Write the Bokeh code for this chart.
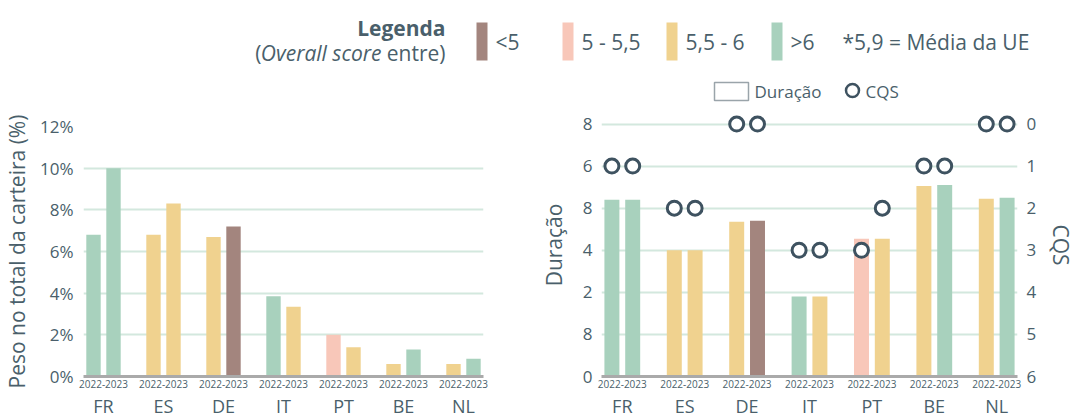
from bokeh.plotting import figure
from bokeh.models import (ColumnDataSource, FactorRange, Range1d, LinearAxis,
                          FixedTicker, PrintfTickFormatter)
from bokeh.transform import dodge
from bokeh.layouts import column, row
from bokeh.core.properties import value
from bokeh.embed import file_html
from bokeh.resources import INLINE

# ---------------- data ----------------
countries = ["FR", "ES", "DE", "IT", "PT", "BE", "NL"]
period = "2022-2023"

weight_2022 = [6.8, 6.8, 6.7, 3.85, 2.0, 0.6, 0.6]
weight_2023 = [10.0, 8.3, 7.2, 3.35, 1.4, 1.3, 0.85]

duration_2022 = [8.4, 6.0, 7.35, 3.8, 6.55, 9.05, 8.45]
duration_2023 = [8.4, 6.0, 7.4, 3.8, 6.55, 9.1, 8.5]

cqs_2022 = [1, 2, 0, 3, 3, 1, 0]
cqs_2023 = [1, 2, 0, 3, 2, 1, 0]

class_2022 = [">6", "5,5 - 6", "5,5 - 6", ">6", "5 - 5,5", "5,5 - 6", "5,5 - 6"]
class_2023 = [">6", "5,5 - 6", "<5", "5,5 - 6", "5,5 - 6", ">6", ">6"]

legend_labels = ["<5", "5 - 5,5", "5,5 - 6", ">6"]
legend_colors = ["#a3857e", "#f8c7b9", "#f0d28f", "#a8d1bd"]
legend_note = "*5,9 = Média da UE"

weight_ticks = [0, 2, 4, 6, 8, 10, 12]
duration_ticks = [0, 2, 4, 6, 8, 10, 12]
duration_tick_labels = ["0", "8", "2", "4", "8", "6", "8"]
cqs_ticks = [0, 1, 2, 3, 4, 5, 6]

# ---------------- style ----------------
FONT = "Open Sans"
TEXT = "#4a5f6b"
GRID = "#d3e8de"
AXIS = "#aaaaaa"
MARK = "#3e5260"
color_map = dict(zip(legend_labels, legend_colors))

factors = [(c, period) for c in countries]
src = ColumnDataSource(dict(
    x=factors,
    w22=weight_2022, w23=weight_2023,
    d22=duration_2022, d23=duration_2023,
    q22=cqs_2022, q23=cqs_2023,
    c22=[color_map[k] for k in class_2022],
    c23=[color_map[k] for k in class_2023],
))


def style(p):
    p.outline_line_color = None
    p.xgrid.grid_line_color = None
    p.ygrid.grid_line_color = GRID
    p.ygrid.grid_line_width = 2
    p.background_fill_color = "white"
    p.border_fill_color = "white"
    try:
        p.frame_align = False
    except Exception:
        pass
    for ax in p.xaxis:
        ax.axis_line_color = AXIS
        ax.axis_line_width = 3
        ax.major_tick_line_color = None
        ax.minor_tick_line_color = None
        ax.major_tick_out = 0
        ax.major_tick_in = 0
        ax.major_label_text_font = FONT
        ax.major_label_text_font_size = "10px"
        ax.major_label_text_color = TEXT
        ax.major_label_standoff = 3
        ax.group_text_font = FONT
        ax.group_text_font_size = "18px"
        ax.group_text_color = TEXT
        ax.group_text_font_style = "normal"
        ax.separator_line_color = None
    for ax in p.yaxis:
        ax.axis_line_color = None
        ax.major_tick_line_color = None
        ax.minor_tick_line_color = None
        ax.major_tick_out = 0
        ax.major_tick_in = 0
        ax.major_label_text_font = FONT
        ax.major_label_text_font_size = "17px"
        ax.major_label_text_color = TEXT
        ax.axis_label_text_font = FONT
        ax.axis_label_text_font_style = "normal"
        ax.axis_label_text_color = TEXT


# ---------------- legend strip ----------------
leg = figure(width=1084, height=105, x_range=Range1d(0, 1084), y_range=Range1d(105, 0),
             output_backend="svg", toolbar_location=None,
             min_border_left=0, min_border_right=0, min_border_top=0, min_border_bottom=0)
leg.axis.visible = False
leg.grid.visible = False
leg.outline_line_color = None

leg.text(x=[445], y=[27], text=["Legenda"], text_align="right", text_baseline="middle",
         text_font=value(FONT), text_font_size=value("21px"), text_font_style="bold",
         text_color=TEXT)
leg.text(x=[445], y=[52], text=["entre)"], text_align="right", text_baseline="middle",
         text_font=value(FONT), text_font_size=value("21px"), text_color=TEXT)
leg.text(x=[381], y=[52], text=["Overall score"], text_align="right", text_baseline="middle",
         text_font=value(FONT), text_font_size=value("21px"), text_font_style="italic",
         text_color=TEXT)
leg.text(x=[261], y=[52], text=["("], text_align="right", text_baseline="middle",
         text_font=value(FONT), text_font_size=value("21px"), text_color=TEXT)

sw_left = [476, 562, 666, 771]
leg.quad(left=sw_left, right=[v + 11 for v in sw_left], top=[22] * 4, bottom=[60] * 4,
         color=legend_colors, line_color=None)
leg.text(x=[v + 19 for v in sw_left], y=[41] * 4, text=legend_labels, text_baseline="middle",
         text_font=value(FONT), text_font_size=value("21px"), text_color=TEXT)
leg.text(x=[842], y=[41], text=[legend_note], text_baseline="middle",
         text_font=value(FONT), text_font_size=value("21px"), text_color=TEXT)

leg.quad(left=[714], right=[748], top=[82], bottom=[100], fill_color="white",
         line_color="#9aa4aa", line_width=1.5)
leg.text(x=[754], y=[91], text=["Duração"], text_baseline="middle",
         text_font=value(FONT), text_font_size=value("17px"), text_color=TEXT)
leg.scatter(x=[852], y=[90], marker="circle", size=13, fill_color="white",
            line_color=MARK, line_width=2.5)
leg.text(x=[865], y=[91], text=["CQS"], text_baseline="middle",
         text_font=value(FONT), text_font_size=value("17px"), text_color=TEXT)

# ---------------- left chart: weight ----------------
p1 = figure(width=536, height=315,
            x_range=FactorRange(*factors, group_padding=0.5, range_padding=0.0),
            y_range=Range1d(0, 12), output_backend="svg", toolbar_location=None,
            min_border_left=80, min_border_right=53, min_border_top=21, min_border_bottom=39)
p1.vbar(x=dodge("x", -0.25, range=p1.x_range), top="w22", width=0.36, fill_color="c22",
        line_color=None, source=src)
p1.vbar(x=dodge("x", 0.25, range=p1.x_range), top="w23", width=0.36, fill_color="c23",
        line_color=None, source=src)
style(p1)
p1.yaxis.ticker = FixedTicker(ticks=weight_ticks)
p1.yaxis.formatter = PrintfTickFormatter(format="%d%%")
p1.yaxis.axis_label = "Peso no total da carteira (%)"
p1.yaxis.axis_label_text_font_size = "21px"
p1.yaxis.major_label_standoff = 10
p1.yaxis.axis_label_standoff = 6

# ---------------- right chart: duration + CQS ----------------
p2 = figure(width=548, height=315,
            x_range=FactorRange(*factors, group_padding=0.5, range_padding=0.0),
            y_range=Range1d(0, 12.5), output_backend="svg", toolbar_location=None,
            min_border_left=59, min_border_right=67, min_border_top=8, min_border_bottom=33)
p2.extra_y_ranges = {"cqs": Range1d(6, -0.25)}
p2.vbar(x=dodge("x", -0.25, range=p2.x_range), top="d22", width=0.36, fill_color="c22",
        line_color=None, source=src)
p2.vbar(x=dodge("x", 0.25, range=p2.x_range), top="d23", width=0.36, fill_color="c23",
        line_color=None, source=src)
p2.scatter(x=dodge("x", -0.25, range=p2.x_range), y="q22", y_range_name="cqs", marker="circle",
           size=14, fill_color="white", line_color=MARK, line_width=3, source=src)
p2.scatter(x=dodge("x", 0.25, range=p2.x_range), y="q23", y_range_name="cqs", marker="circle",
           size=14, fill_color="white", line_color=MARK, line_width=3, source=src)
cqs_axis = LinearAxis(y_range_name="cqs", axis_label="CQS", ticker=FixedTicker(ticks=cqs_ticks))
p2.add_layout(cqs_axis, "right")
style(p2)
p2.yaxis[0].ticker = FixedTicker(ticks=duration_ticks)
p2.yaxis[0].major_label_overrides = dict(zip(duration_ticks, duration_tick_labels))
p2.yaxis[0].axis_label = "Duração"
for ax in p2.yaxis:
    ax.axis_label_text_font_size = "21px"
    ax.major_label_standoff = 9
p2.yaxis[0].axis_label_standoff = 12
cqs_axis.axis_label_standoff = 8
try:
    cqs_axis.axis_label_orientation = "vertical"
except Exception:
    pass

layout = column(leg, row(p1, p2, spacing=0), spacing=0)

with open("out.html", "w") as f:
    f.write(file_html(layout, INLINE))
